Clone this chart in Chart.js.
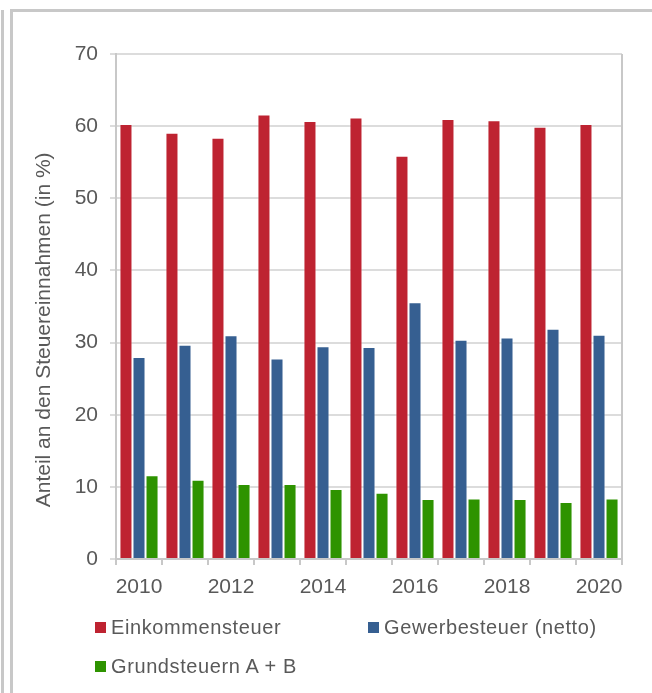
<!DOCTYPE html>
<html>
<head>
<meta charset="utf-8">
<script src="https://cdn.jsdelivr.net/npm/chart.js@4"></script>
<style>
    body { margin: 0; background: #fff; font-family: "Liberation Sans", Arial, sans-serif; }
    #wrap { position: relative; width: 652px; height: 693px; overflow: hidden; }
    .edge { position: absolute; left: 1px; top: 10px; width: 3px; height: 683px; background: #c8c8c8; }
    .frame { position: absolute; left: 10px; top: 9px; right: 0; bottom: 0;
             border-left: 3px solid #c8c8c8; border-top: 3px solid #c8c8c8; }
    canvas { position: absolute; left: 0; top: 0; }
    .item { position: absolute; font-size: 20px; line-height: 20px; color: #595959;
            letter-spacing: 0.6px; white-space: nowrap; }
    .box { position: absolute; width: 11px; height: 11px; }
</style>
</head>
<body>
<div id="wrap">
    <div class="edge"></div>
    <div class="frame"></div>
    <canvas id="myChart" width="652" height="693"></canvas>
    <div id="legend"></div>
</div>
<script>
const years = ['2010', '2011', '2012', '2013', '2014', '2015', '2016', '2017', '2018', '2019', '2020'];
const einkommensteuer = [60.3, 59.1, 58.4, 61.6, 60.7, 61.2, 55.9, 61.0, 60.8, 59.9, 60.3];
const gewerbesteuer = [28.0, 29.7, 31.0, 27.8, 29.5, 29.4, 35.6, 30.4, 30.7, 31.9, 31.1];
const grundsteuern = [11.6, 11.0, 10.4, 10.4, 9.7, 9.2, 8.3, 8.4, 8.3, 7.9, 8.4];
const seriesNames = ['Einkommensteuer', 'Gewerbesteuer (netto)', 'Grundsteuern A + B'];
const seriesColors = ['#be2331', '#365f91', '#2e9300'];
const yMax = 70;
const yStep = 10;

const textColor = '#595959';
const lineColor = '#c8c8c8';

// right border of the plot area
const rightEdge = {
    id: 'rightEdge',
    afterDraw(chart) {
        const { ctx, chartArea } = chart;
        ctx.save();
        ctx.strokeStyle = lineColor;
        ctx.lineWidth = 2;
        ctx.beginPath();
        ctx.moveTo(chartArea.right, chartArea.top);
        ctx.lineTo(chartArea.right, chartArea.bottom);
        ctx.stroke();
        ctx.restore();
    }
};

function loadChart() {
    const ctx = document.getElementById('myChart');
    const values = [einkommensteuer, gewerbesteuer, grundsteuern];

    const data = {
        labels: years,
        datasets: values.map((v, i) => ({
            label: seriesNames[i],
            data: v,
            backgroundColor: seriesColors[i],
            borderColor: 'rgba(255,255,255,0.45)',
            borderWidth: 1,
            categoryPercentage: 0.85,
            barPercentage: 1.0
        }))
    };

    new Chart(ctx, {
        type: 'bar',
        data: data,
        plugins: [rightEdge],
        options: {
            responsive: false,
            animation: false,
            layout: {
                padding: { left: 14, right: 30, top: 54, bottom: 74 }
            },
            plugins: {
                legend: { display: false },
                tooltip: { enabled: false }
            },
            scales: {
                x: {
                    afterFit: (scale) => { scale.height = 60; },
                    offset: true,
                    grid: {
                        offset: true,
                        drawOnChartArea: false,
                        tickLength: 6,
                        color: lineColor,
                        lineWidth: 2
                    },
                    border: { color: lineColor, width: 2 },
                    ticks: {
                        autoSkip: false,
                        maxRotation: 0,
                        padding: 10,
                        color: textColor,
                        font: { size: 21, family: 'Liberation Sans' },
                        callback: (v, i) => i % 2 === 0 ? years[i] : ''
                    }
                },
                y: {
                    afterFit: (scale) => { scale.width = 102; },
                    min: 0,
                    max: yMax,
                    grid: {
                        color: '#dcdcdc',
                        lineWidth: 2,
                        tickLength: 6
                    },
                    border: { color: lineColor, width: 2 },
                    ticks: {
                        stepSize: yStep,
                        padding: 12,
                        color: textColor,
                        font: { size: 21, family: 'Liberation Sans' }
                    },
                    title: {
                        display: true,
                        // trailing spaces push the title a bit lower, as in the original
                        text: 'Anteil an den Steuereinnahmen (in %)' + '\u00a0'.repeat(8),
                        color: textColor,
                        padding: { top: 18, bottom: 0 },
                        font: { size: 21, family: 'Liberation Sans' }
                    }
                }
            }
        }
    });
}

function loadLegend() {
    const pos = [[95, 622], [368, 622], [95, 661]];
    const el = document.getElementById('legend');
    seriesNames.forEach((name, i) => {
        const [x, y] = pos[i];
        const box = document.createElement('div');
        box.className = 'box';
        box.style.left = x + 'px';
        box.style.top = y + 'px';
        box.style.background = seriesColors[i];
        const txt = document.createElement('div');
        txt.className = 'item';
        txt.style.left = (x + 16) + 'px';
        txt.style.top = (y - 5) + 'px';
        txt.textContent = name;
        el.appendChild(box);
        el.appendChild(txt);
    });
}

loadChart();
loadLegend();
</script>
</body>
</html>
